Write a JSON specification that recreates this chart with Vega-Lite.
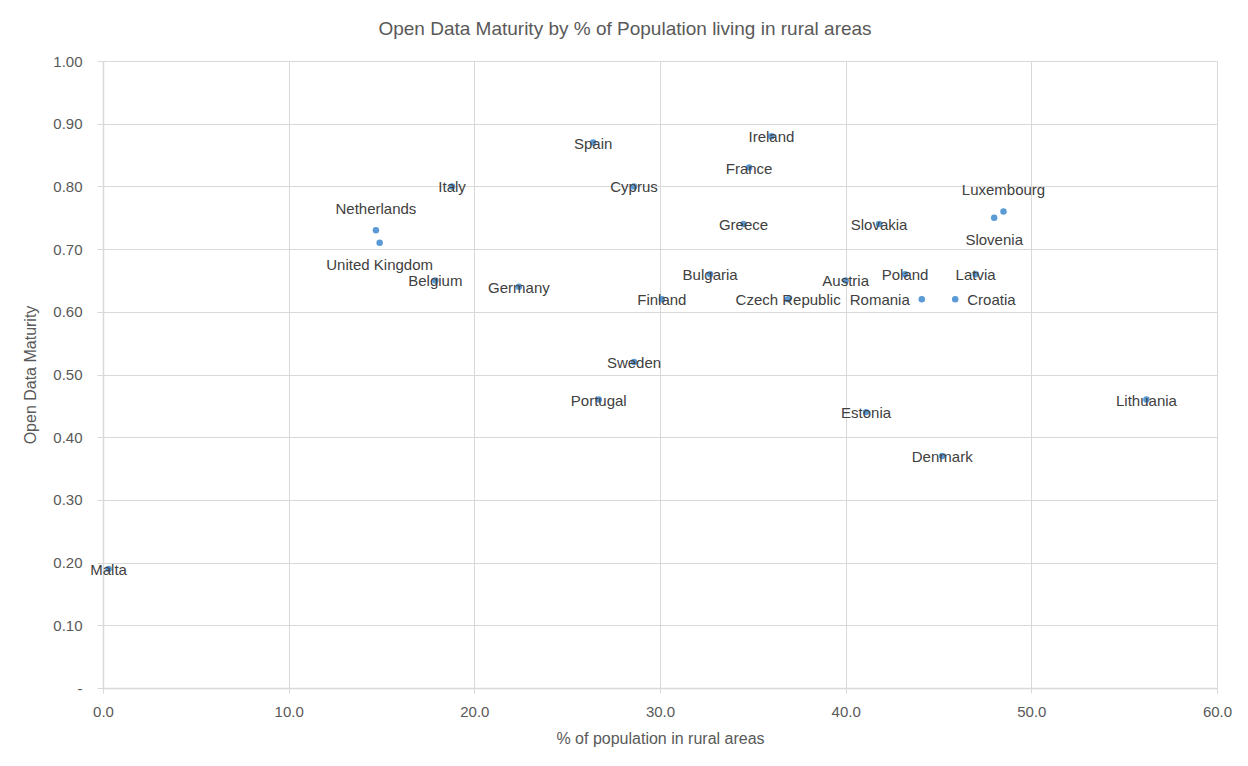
{
  "$schema": "https://vega.github.io/schema/vega-lite/v6.json",
  "width": 1114,
  "height": 627,
  "autosize": "none",
  "padding": {"left": 103, "top": 61, "right": 31, "bottom": 78},
  "background": "white",
  "title": {
    "text": "Open Data Maturity by % of Population living in rural areas",
    "font": "Liberation Sans",
    "fontSize": 19,
    "fontWeight": "normal",
    "color": "#595959",
    "anchor": "middle",
    "dx": -35,
    "offset": 15
  },
  "data": {
    "values": [
      {"country": "Spain", "rural": 26.4, "odm": 0.87},
      {"country": "Italy", "rural": 18.8, "odm": 0.80},
      {"country": "Cyprus", "rural": 28.6, "odm": 0.80},
      {"country": "Netherlands", "rural": 14.7, "odm": 0.73},
      {"country": "United Kingdom", "rural": 14.9, "odm": 0.71},
      {"country": "Belgium", "rural": 17.9, "odm": 0.65},
      {"country": "Germany", "rural": 22.4, "odm": 0.64},
      {"country": "Finland", "rural": 30.1, "odm": 0.62},
      {"country": "Ireland", "rural": 36.0, "odm": 0.88},
      {"country": "France", "rural": 34.8, "odm": 0.83},
      {"country": "Greece", "rural": 34.5, "odm": 0.74},
      {"country": "Slovakia", "rural": 41.8, "odm": 0.74},
      {"country": "Luxembourg", "rural": 48.5, "odm": 0.76},
      {"country": "Slovenia", "rural": 48.0, "odm": 0.75},
      {"country": "Bulgaria", "rural": 32.7, "odm": 0.66},
      {"country": "Austria", "rural": 40.0, "odm": 0.65},
      {"country": "Poland", "rural": 43.2, "odm": 0.66},
      {"country": "Latvia", "rural": 47.0, "odm": 0.66},
      {"country": "Czech Republic", "rural": 36.9, "odm": 0.62},
      {"country": "Romania", "rural": 44.1, "odm": 0.62},
      {"country": "Croatia", "rural": 45.9, "odm": 0.62},
      {"country": "Sweden", "rural": 28.6, "odm": 0.52},
      {"country": "Portugal", "rural": 26.7, "odm": 0.46},
      {"country": "Estonia", "rural": 41.1, "odm": 0.44},
      {"country": "Denmark", "rural": 45.2, "odm": 0.37},
      {"country": "Malta", "rural": 0.3, "odm": 0.19},
      {"country": "Lithuania", "rural": 56.2, "odm": 0.46}
    ]
  },
  "encoding": {
    "x": {
      "field": "rural",
      "type": "quantitative",
      "scale": {"domain": [0, 60], "nice": false, "zero": false},
      "axis": {
        "title": "% of population in rural areas",
        "values": [0, 10, 20, 30, 40, 50, 60],
        "format": ".1f",
        "labelFlush": false,
        "labelPadding": 11,
        "titlePadding": 11,
        "tickSize": 5
      }
    },
    "y": {
      "field": "odm",
      "type": "quantitative",
      "scale": {"domain": [0, 1], "nice": false},
      "axis": {
        "title": "Open Data Maturity",
        "values": [0, 0.1, 0.2, 0.3, 0.4, 0.5, 0.6, 0.7, 0.8, 0.9, 1.0],
        "labelExpr": "datum.value == 0 ? '-\u00a0\u00a0' : format(datum.value, '.2f')",
        "labelFlush": false,
        "labelPadding": 15,
        "titlePadding": 14,
        "tickSize": 6
      }
    }
  },
  "layer": [
    {
      "mark": {"type": "circle", "size": 42, "color": "#5B9BD5", "opacity": 1}
    },
    {
      "transform": [{"filter": {"not": {"field": "country", "oneOf": ["Netherlands", "United Kingdom", "Luxembourg", "Slovenia", "Croatia", "Romania"]}}}],
      "mark": {"type": "text", "align": "center", "baseline": "middle", "font": "Liberation Sans", "fontSize": 15, "color": "#404040", "dy": 1},
      "encoding": {"text": {"field": "country"}}
    },
    {
      "transform": [{"filter": {"field": "country", "oneOf": ["Netherlands", "Luxembourg"]}}],
      "mark": {"type": "text", "align": "center", "baseline": "middle", "font": "Liberation Sans", "fontSize": 15, "color": "#404040", "dy": -21},
      "encoding": {"text": {"field": "country"}}
    },
    {
      "transform": [{"filter": {"field": "country", "oneOf": ["United Kingdom", "Slovenia"]}}],
      "mark": {"type": "text", "align": "center", "baseline": "middle", "font": "Liberation Sans", "fontSize": 15, "color": "#404040", "dy": 22},
      "encoding": {"text": {"field": "country"}}
    },
    {
      "transform": [{"filter": {"field": "country", "equal": "Croatia"}}],
      "mark": {"type": "text", "align": "left", "baseline": "middle", "font": "Liberation Sans", "fontSize": 15, "color": "#404040", "dx": 12, "dy": 1},
      "encoding": {"text": {"field": "country"}}
    },
    {
      "transform": [{"filter": {"field": "country", "equal": "Romania"}}],
      "mark": {"type": "text", "align": "right", "baseline": "middle", "font": "Liberation Sans", "fontSize": 15, "color": "#404040", "dx": -12, "dy": 1},
      "encoding": {"text": {"field": "country"}}
    }
  ],
  "config": {
    "view": {"stroke": null},
    "axis": {
      "labelFont": "Liberation Sans",
      "labelFontSize": 15,
      "labelColor": "#595959",
      "titleFont": "Liberation Sans",
      "titleFontSize": 16,
      "titleFontWeight": "normal",
      "titleColor": "#595959",
      "gridColor": "#D9D9D9",
      "gridWidth": 1,
      "domainColor": "#D9D9D9",
      "tickColor": "#D9D9D9",
      "domainWidth": 1.5
    }
  }
}
